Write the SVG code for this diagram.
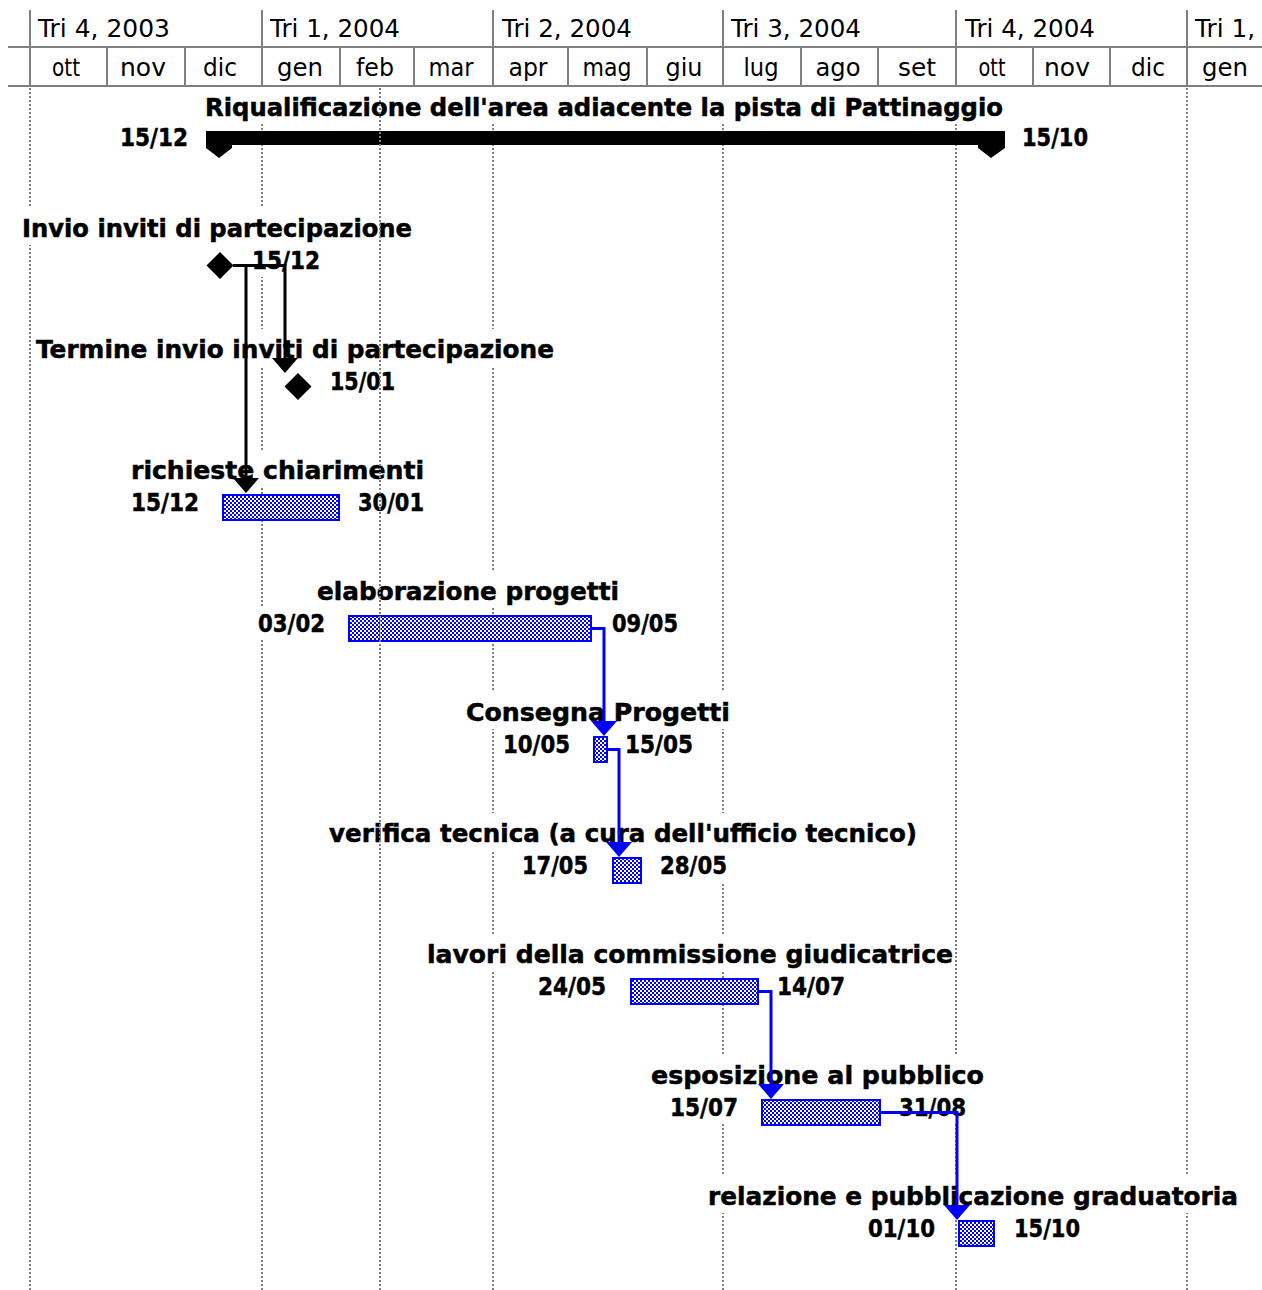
<svg xmlns="http://www.w3.org/2000/svg" width="1262" height="1290" viewBox="0 0 1262 1290">
<style>
.hl{stroke:#808080;stroke-width:2;fill:none}
.grid{stroke:#808080;stroke-width:2;stroke-dasharray:2 2;fill:none}
.hd{font-family:"DejaVu Sans","Liberation Sans",sans-serif;font-size:25px;fill:#000}
.nm{font-family:"DejaVu Sans","Liberation Sans",sans-serif;font-weight:bold;font-size:24px;fill:#000;stroke:#000;stroke-width:0.5}
.dt{font-family:"DejaVu Sans","Liberation Sans",sans-serif;font-weight:bold;font-size:24px;fill:#000;stroke:#000;stroke-width:0.5}
.bg{fill:#fff}
.bar{fill:url(#chk);stroke:#0000ff;stroke-width:2}
.ms{fill:#000}
.lk{fill:none;stroke:#0000ff;stroke-width:3}
.lkb{fill:none;stroke:#000;stroke-width:3}
.ah{fill:#0000ff}
.ahb{fill:#000}
</style>
<defs>
<pattern id="chk" width="4" height="4" patternUnits="userSpaceOnUse">
<rect width="4" height="4" fill="#fff"/>
<rect width="2" height="2" fill="#0000ff"/>
<rect x="2" y="2" width="2" height="2" fill="#0000ff"/>
</pattern>
</defs>
<rect width="1262" height="1290" fill="#fff"/>

<g id="timescale">
<path class="hl" d="M8,47H1262M8,86H1262M30,10V86M262,10V86M493,10V86M723,10V86M956,10V86M1187,10V86M107,47V86M185,47V86M340,47V86M414,47V86M568,47V86M647,47V86M801,47V86M878,47V86M1033,47V86M1110,47V86"/>
<text class="hd" x="38" y="37" textLength="132" lengthAdjust="spacingAndGlyphs">Tri 4, 2003</text>
<text class="hd" x="270" y="37" textLength="130" lengthAdjust="spacingAndGlyphs">Tri 1, 2004</text>
<text class="hd" x="502" y="37" textLength="130" lengthAdjust="spacingAndGlyphs">Tri 2, 2004</text>
<text class="hd" x="731" y="37" textLength="130" lengthAdjust="spacingAndGlyphs">Tri 3, 2004</text>
<text class="hd" x="965" y="37" textLength="130" lengthAdjust="spacingAndGlyphs">Tri 4, 2004</text>
<text class="hd" x="1195" y="37" textLength="60" lengthAdjust="spacingAndGlyphs">Tri 1,</text>
<g text-anchor="middle">
<text class="hd" x="66" y="76" textLength="28" lengthAdjust="spacingAndGlyphs">ott</text>
<text class="hd" x="143" y="76" textLength="46" lengthAdjust="spacingAndGlyphs">nov</text>
<text class="hd" x="220" y="76" textLength="34" lengthAdjust="spacingAndGlyphs">dic</text>
<text class="hd" x="300" y="76" textLength="46" lengthAdjust="spacingAndGlyphs">gen</text>
<text class="hd" x="375" y="76" textLength="38" lengthAdjust="spacingAndGlyphs">feb</text>
<text class="hd" x="451" y="76" textLength="45" lengthAdjust="spacingAndGlyphs">mar</text>
<text class="hd" x="528" y="76" textLength="39" lengthAdjust="spacingAndGlyphs">apr</text>
<text class="hd" x="607" y="76" textLength="49" lengthAdjust="spacingAndGlyphs">mag</text>
<text class="hd" x="684" y="76" textLength="37" lengthAdjust="spacingAndGlyphs">giu</text>
<text class="hd" x="761" y="76" textLength="35" lengthAdjust="spacingAndGlyphs">lug</text>
<text class="hd" x="838" y="76" textLength="45" lengthAdjust="spacingAndGlyphs">ago</text>
<text class="hd" x="917" y="76" textLength="38" lengthAdjust="spacingAndGlyphs">set</text>
<text class="hd" x="992" y="76" textLength="27" lengthAdjust="spacingAndGlyphs">ott</text>
<text class="hd" x="1067" y="76" textLength="46" lengthAdjust="spacingAndGlyphs">nov</text>
<text class="hd" x="1148" y="76" textLength="34" lengthAdjust="spacingAndGlyphs">dic</text>
<text class="hd" x="1225" y="76" textLength="46" lengthAdjust="spacingAndGlyphs">gen</text>
</g>
</g>

<g id="gridlines">
<path class="grid" d="M30,88V1290M262,88V1290M493,88V1290M723,88V1290M956,88V1290M1187,88V1290"/>
</g>

<g id="summary">
<rect class="bg" x="202" y="87" width="802" height="37"/>
<rect class="bg" x="117" y="122" width="74" height="32"/>
<rect class="bg" x="1019" y="122" width="72" height="32"/>
<text class="nm" x="205" y="116" textLength="798" lengthAdjust="spacingAndGlyphs">Riqualificazione dell'area adiacente la pista di Pattinaggio</text>
<text class="dt" x="120" y="146" textLength="68" lengthAdjust="spacingAndGlyphs">15/12</text>
<text class="dt" x="1022" y="146" textLength="66" lengthAdjust="spacingAndGlyphs">15/10</text>
<path class="ms" d="M206,131H1005V148L991,158L978,148V145H232V148L219,158L206,148Z"/>
</g>

<g id="task-invio">
<rect class="bg" x="19" y="208" width="396" height="37"/>
<rect class="bg" x="249" y="245" width="74" height="32"/>
<text class="nm" x="22" y="237" textLength="390" lengthAdjust="spacingAndGlyphs">Invio inviti di partecipazione</text>
<text class="dt" x="252" y="269" textLength="68" lengthAdjust="spacingAndGlyphs">15/12</text>
<polygon class="ms" points="220,252 233.5,265.5 220,279 206.5,265.5"/>
</g>

<g id="task-termine">
<rect class="bg" x="33" y="329" width="524" height="37"/>
<rect class="bg" x="327" y="366" width="71" height="32"/>
<text class="nm" x="36" y="358" textLength="518" lengthAdjust="spacingAndGlyphs">Termine invio inviti di partecipazione</text>
<text class="dt" x="330" y="390" textLength="65" lengthAdjust="spacingAndGlyphs">15/01</text>
<polygon class="ms" points="298,373 311.5,386.5 298,400 284.5,386.5"/>
</g>

<g id="task-richieste">
<rect class="bg" x="128" y="450" width="299" height="37"/>
<rect class="bg" x="128" y="487" width="74" height="32"/>
<rect class="bg" x="355" y="487" width="72" height="32"/>
<text class="nm" x="131" y="479" textLength="293" lengthAdjust="spacingAndGlyphs">richieste chiarimenti</text>
<text class="dt" x="131" y="511" textLength="68" lengthAdjust="spacingAndGlyphs">15/12</text>
<text class="dt" x="358" y="511" textLength="66" lengthAdjust="spacingAndGlyphs">30/01</text>
<rect class="bar" x="223" y="495" width="116" height="25"/>
</g>

<g id="task-elaborazione">
<rect class="bg" x="314" y="571" width="308" height="37"/>
<rect class="bg" x="255" y="608" width="73" height="32"/>
<rect class="bg" x="609" y="608" width="72" height="32"/>
<text class="nm" x="317" y="600" textLength="302" lengthAdjust="spacingAndGlyphs">elaborazione progetti</text>
<text class="dt" x="258" y="632" textLength="67" lengthAdjust="spacingAndGlyphs">03/02</text>
<text class="dt" x="612" y="632" textLength="66" lengthAdjust="spacingAndGlyphs">09/05</text>
<rect class="bar" x="349" y="616" width="242" height="25"/>
</g>

<g id="task-consegna">
<rect class="bg" x="463" y="692" width="270" height="37"/>
<rect class="bg" x="500" y="729" width="73" height="32"/>
<rect class="bg" x="622" y="729" width="74" height="32"/>
<text class="nm" x="466" y="721" textLength="264" lengthAdjust="spacingAndGlyphs">Consegna Progetti</text>
<text class="dt" x="503" y="753" textLength="67" lengthAdjust="spacingAndGlyphs">10/05</text>
<text class="dt" x="625" y="753" textLength="68" lengthAdjust="spacingAndGlyphs">15/05</text>
<rect class="bar" x="594" y="737" width="13" height="25"/>
</g>

<g id="task-verifica">
<rect class="bg" x="326" y="813" width="594" height="37"/>
<rect class="bg" x="519" y="850" width="72" height="32"/>
<rect class="bg" x="657" y="850" width="73" height="32"/>
<text class="nm" x="329" y="842" textLength="588" lengthAdjust="spacingAndGlyphs">verifica tecnica (a cura dell'ufficio tecnico)</text>
<text class="dt" x="522" y="874" textLength="66" lengthAdjust="spacingAndGlyphs">17/05</text>
<text class="dt" x="660" y="874" textLength="67" lengthAdjust="spacingAndGlyphs">28/05</text>
<rect class="bar" x="613" y="858" width="28" height="25"/>
</g>

<g id="task-lavori">
<rect class="bg" x="424" y="934" width="530" height="37"/>
<rect class="bg" x="535" y="971" width="74" height="32"/>
<rect class="bg" x="774" y="971" width="74" height="32"/>
<text class="nm" x="427" y="963" textLength="526" lengthAdjust="spacingAndGlyphs">lavori della commissione giudicatrice</text>
<text class="dt" x="538" y="995" textLength="68" lengthAdjust="spacingAndGlyphs">24/05</text>
<text class="dt" x="777" y="995" textLength="68" lengthAdjust="spacingAndGlyphs">14/07</text>
<rect class="bar" x="631" y="979" width="127" height="25"/>
</g>

<g id="task-esposizione">
<rect class="bg" x="648" y="1055" width="338" height="37"/>
<rect class="bg" x="667" y="1092" width="74" height="32"/>
<rect class="bg" x="896" y="1092" width="73" height="32"/>
<text class="nm" x="651" y="1084" textLength="333" lengthAdjust="spacingAndGlyphs">esposizione al pubblico</text>
<text class="dt" x="670" y="1116" textLength="68" lengthAdjust="spacingAndGlyphs">15/07</text>
<text class="dt" x="899" y="1116" textLength="67" lengthAdjust="spacingAndGlyphs">31/08</text>
<rect class="bar" x="762" y="1100" width="118" height="25"/>
</g>

<g id="task-relazione">
<rect class="bg" x="705" y="1176" width="536" height="37"/>
<rect class="bg" x="865" y="1213" width="73" height="32"/>
<rect class="bg" x="1011" y="1213" width="72" height="32"/>
<text class="nm" x="708" y="1205" textLength="530" lengthAdjust="spacingAndGlyphs">relazione e pubblicazione graduatoria</text>
<text class="dt" x="868" y="1237" textLength="67" lengthAdjust="spacingAndGlyphs">01/10</text>
<text class="dt" x="1014" y="1237" textLength="66" lengthAdjust="spacingAndGlyphs">15/10</text>
<rect class="bar" x="959" y="1221" width="35" height="25"/>
</g>

<g id="connectors">
<polyline class="lkb" points="233,265.5 285,265.5 285,360"/>
<polygon class="ahb" points="272,358 298,358 285,373"/>
<polyline class="lkb" points="246,265.5 246,480"/>
<polygon class="ahb" points="233,478 259,478 246,493"/>
<polyline class="lk" points="592,628.5 604,628.5 604,723"/>
<polygon class="ah" points="591,721 617,721 604,736"/>
<polyline class="lk" points="608,749.5 619,749.5 619,844"/>
<polygon class="ah" points="606,842 632,842 619,857"/>
<polyline class="lk" points="759,991.5 771,991.5 771,1086"/>
<polygon class="ah" points="758,1084 784,1084 771,1099"/>
<polyline class="lk" points="881,1112.5 957,1112.5 957,1207"/>
<polygon class="ah" points="944,1205 970,1205 957,1220"/>
</g>

<g id="status-line">
<path class="grid" d="M380,88V1290"/>
</g>
</svg>
